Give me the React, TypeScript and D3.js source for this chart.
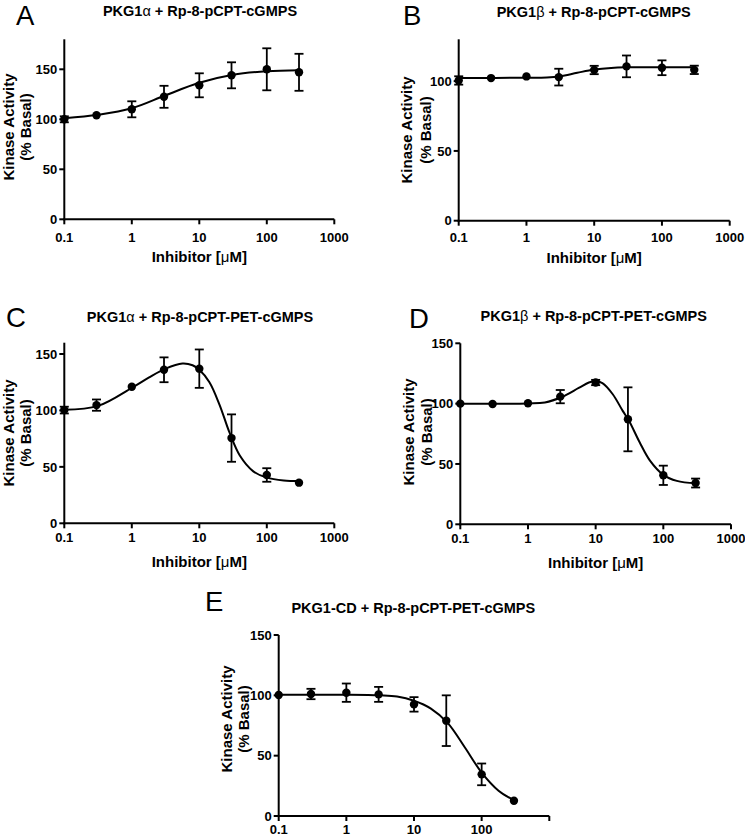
import React from 'react';
import * as d3 from 'd3';

// ---------- data ----------
const conc = [0.1, 0.3, 1, 3, 10, 30, 100, 300];
const xTickValues = [0.1, 1, 10, 100, 1000];

const titleA = 'PKG1α + Rp-8-pCPT-cGMPS';
const titleB = 'PKG1β + Rp-8-pCPT-cGMPS';
const titleC = 'PKG1α + Rp-8-pCPT-PET-cGMPS';
const titleD = 'PKG1β + Rp-8-pCPT-PET-cGMPS';
const titleE = 'PKG1-CD + Rp-8-pCPT-PET-cGMPS';

const meanA = [100, 104, 110, 122.5, 134, 144, 150, 147];
const errA = [3, 0, 8, 11, 12, 13, 21, 18.5];
const meanB = [100.5, 102.2, 103.4, 102.9, 108, 110.6, 109.6, 108.1];
const errB = [3, 0, 0, 6, 3, 7.8, 5.3, 3];
const meanC = [100.3, 104.7, 121, 136, 137, 75.5, 42.8, 36];
const errC = [3, 5, 0, 11, 17, 21, 6, 0];
const meanD = [100, 99.7, 100.3, 105.8, 117.5, 87, 40.6, 34.2];
const errD = [0, 0, 0, 5.5, 2.2, 26.5, 8, 3.7];
const meanE = [100.3, 101.1, 102.2, 100.8, 92.5, 79, 34.5, 12.7];
const errE = [0, 4.3, 7.6, 6.2, 6, 21, 9, 0];

// fitted curves: [log10(conc), activity]
const curveA: [number, number][] = [[-1, 101], [-0.5, 104.5], [0, 111], [0.5, 124], [1, 136.5], [1.5, 144.5], [2, 148], [2.48, 149]];
const curveB: [number, number][] = [[-1, 102.3], [0, 102.4], [0.3, 102.6], [0.5, 103.5], [0.75, 106], [1, 108.3], [1.25, 109.5], [1.5, 109.9], [2, 110], [2.48, 110]];
const curveC: [number, number][] = [[-1, 100.5], [-0.5, 104], [0, 120], [0.25, 129], [0.5, 137], [0.75, 141.5], [0.9, 140], [1.0, 136], [1.15, 125], [1.3, 105], [1.45, 80], [1.6, 60], [1.8, 46], [2.0, 40.5], [2.25, 38], [2.48, 37.5]];
const curveD: [number, number][] = [[-1, 100], [0, 100.2], [0.25, 101], [0.5, 105.5], [0.75, 113], [0.9, 117.5], [1.0, 118.5], [1.1, 117], [1.25, 108], [1.4, 94], [1.5, 85], [1.65, 68], [1.8, 53], [2.0, 41], [2.2, 36], [2.48, 34]];
const curveE: [number, number][] = [[-1, 100.5], [0, 100.5], [0.5, 100], [0.75, 99], [1.0, 95.5], [1.25, 89], [1.5, 77], [1.75, 57], [2.0, 36], [2.25, 21], [2.48, 13]];

const yTitle1 = 'Kinase Activity';
const yTitle2 = '(% Basal)';
const xTitle = 'Inhibitor [μM]';

// ---------- layout ----------
type Layout = {
  left: number; right: number; top: number; bottom: number; yMax: number; yTicks: number[];
  letter: string; letterX: number; letterY: number; titleX: number; titleY: number;
  yT1: number; yT2: number; yTC: number; xTickY: number; xTitleY: number | null; hide1000: boolean;
};

const layouts: Layout[] = [
  { left: 64.3, right: 334.3, top: 39.3, bottom: 219.3, yMax: 180, yTicks: [0, 50, 100, 150], letter: 'A', letterX: 16, letterY: 25, titleX: 200, titleY: 15.7, yT1: 14, yT2: 31, yTC: 127, xTickY: 241.7, xTitleY: 262, hide1000: false },
  { left: 458.7, right: 729.7, top: 39.3, bottom: 220.7, yMax: 130, yTicks: [0, 50, 100], letter: 'B', letterX: 403, letterY: 25, titleX: 593.7, titleY: 16.5, yT1: 411.5, yT2: 430.5, yTC: 130, xTickY: 242.3, xTitleY: 263.3, hide1000: false },
  { left: 64.3, right: 334.3, top: 342.7, bottom: 523.3, yMax: 160, yTicks: [0, 50, 100, 150], letter: 'C', letterX: 6, letterY: 326.7, titleX: 200, titleY: 321.7, yT1: 14, yT2: 31, yTC: 433, xTickY: 542.3, xTitleY: 566.7, hide1000: false },
  { left: 460.3, right: 731, top: 343.3, bottom: 524.3, yMax: 150, yTicks: [0, 50, 100, 150], letter: 'D', letterX: 409, letterY: 328, titleX: 593.7, titleY: 320.7, yT1: 413.8, yT2: 432, yTC: 432, xTickY: 543.3, xTitleY: 568, hide1000: false },
  { left: 278.7, right: 549.3, top: 635, bottom: 816, yMax: 150, yTicks: [0, 50, 100, 150], letter: 'E', letterX: 205, letterY: 611, titleX: 413.3, titleY: 612.7, yT1: 231.8, yT2: 248.5, yTC: 719, xTickY: 834, xTitleY: null, hide1000: true },
];

const FONT = '"Liberation Sans", Arial, Helvetica, sans-serif';

function GreekText({ text, ...rest }: any) {
  const parts = text.split(/([αβμ])/);
  return (
    <text {...rest}>
      {parts.map((p: string, i: number) =>
        /[αβμ]/.test(p) ? <tspan key={i} fontWeight="normal">{p}</tspan> : <tspan key={i}>{p}</tspan>
      )}
    </text>
  );
}

function Panel({ L, title, mean, err, curve }: { L: Layout; title: string; mean: number[]; err: number[]; curve: [number, number][] }) {
  const x = d3.scaleLog().domain([0.1, 1000]).range([L.left, L.right]);
  const y = d3.scaleLinear().domain([0, L.yMax]).range([L.bottom, L.top]);
  const line = d3.line<[number, number]>()
    .x(d => x(Math.pow(10, d[0])))
    .y(d => y(d[1]))
    .curve(d3.curveCatmullRom.alpha(0.5));
  const cap = 4.5;
  return (
    <g fontFamily={FONT}>
      <text x={L.letterX} y={L.letterY} fontSize={27.5} fill="#000">{L.letter}</text>
      <GreekText text={title} x={L.titleX} y={L.titleY} fontSize={14.5} fontWeight="bold" textAnchor="middle" fill="#000" />
      {/* axes */}
      <line x1={L.left} x2={L.left} y1={L.bottom + 1} y2={L.top} stroke="#000" strokeWidth={2} />
      <line x1={L.left - 1} x2={L.right} y1={L.bottom} y2={L.bottom} stroke="#000" strokeWidth={2} />
      {L.yTicks.map(t => (
        <g key={'y' + t}>
          <line x1={L.left - 5} x2={L.left} y1={y(t)} y2={y(t)} stroke="#000" strokeWidth={2} />
          <text x={L.left - 7} y={y(t)} dy="0.36em" textAnchor="end" fontSize={13} fontWeight="bold">{t}</text>
        </g>
      ))}
      {xTickValues.map(t => (
        <g key={'x' + t}>
          <line x1={x(t)} x2={x(t)} y1={L.bottom} y2={L.bottom + 5} stroke="#000" strokeWidth={2} />
          {!(L.hide1000 && t === 1000) && (
            <text x={x(t)} y={L.xTickY} textAnchor="middle" fontSize={13} fontWeight="bold">{String(t)}</text>
          )}
        </g>
      ))}
      {L.xTitleY !== null && (
        <GreekText text={xTitle} x={(L.left + L.right) / 2} y={L.xTitleY} fontSize={15} fontWeight="bold" textAnchor="middle" />
      )}
      <text transform={`translate(${L.yT1},${L.yTC}) rotate(-90)`} textAnchor="middle" fontSize={15} fontWeight="bold">{yTitle1}</text>
      <text transform={`translate(${L.yT2},${L.yTC}) rotate(-90)`} textAnchor="middle" fontSize={15} fontWeight="bold">{yTitle2}</text>
      {/* curve */}
      <path d={line(curve) || ''} fill="none" stroke="#000" strokeWidth={2} />
      {/* error bars */}
      {conc.map((c, i) => err[i] > 0 ? (
        <g key={'e' + i} stroke="#000" strokeWidth={1.8}>
          <line x1={x(c)} x2={x(c)} y1={y(mean[i] - err[i])} y2={y(mean[i] + err[i])} />
          <line x1={x(c) - cap} x2={x(c) + cap} y1={y(mean[i] + err[i])} y2={y(mean[i] + err[i])} />
          <line x1={x(c) - cap} x2={x(c) + cap} y1={y(mean[i] - err[i])} y2={y(mean[i] - err[i])} />
        </g>
      ) : null)}
      {conc.map((c, i) => (
        <circle key={'p' + i} cx={x(c)} cy={y(mean[i])} r={4.2} fill="#000" />
      ))}
    </g>
  );
}

export default function App() {
  return (
    <svg width={745} height={837} style={{ position: 'absolute', left: 0, top: 0, background: '#fff' }}>
      <rect width={745} height={837} fill="#fff" />
      <Panel L={layouts[0]} title={titleA} mean={meanA} err={errA} curve={curveA} />
      <Panel L={layouts[1]} title={titleB} mean={meanB} err={errB} curve={curveB} />
      <Panel L={layouts[2]} title={titleC} mean={meanC} err={errC} curve={curveC} />
      <Panel L={layouts[3]} title={titleD} mean={meanD} err={errD} curve={curveD} />
      <Panel L={layouts[4]} title={titleE} mean={meanE} err={errE} curve={curveE} />
    </svg>
  );
}
